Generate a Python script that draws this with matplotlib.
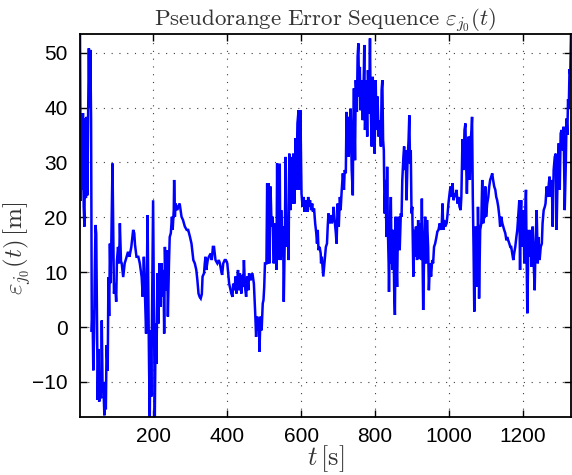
import matplotlib
matplotlib.use("Agg")
import matplotlib.pyplot as plt

plt.rcParams["mathtext.fontset"] = "cm"
plt.rcParams["font.family"] = ["Liberation Sans", "DejaVu Sans"]

# pseudorange error samples: time [s] and error [m]
t_sec = [
    1, 3, 5, 7, 9, 11, 13, 15, 17, 19, 21, 23, 25, 27, 29, 31, 33, 35, 37, 39,
    41, 43, 45, 47, 49, 51, 53, 55, 58, 60, 62, 65, 67, 69, 71, 73, 76, 78, 80, 82,
    84, 86, 89, 91, 93, 96, 99, 101, 104, 107, 109, 112, 114, 118, 122, 126, 131, 135, 140, 145,
    148, 150, 154, 159, 163, 168, 171, 174, 177, 180, 182, 184, 186, 188, 190, 192, 194, 197, 199, 201,
    203.6, 206, 208, 211, 213, 216, 219, 222, 224, 227, 229, 231, 234, 237, 239, 242, 244, 247, 250, 252,
    255, 256, 258, 260, 264, 267, 271, 276, 280, 285, 290, 294, 299, 303, 306, 308, 312, 316, 319, 322,
    325, 328, 331, 333, 337, 339, 341, 343, 347, 350, 355, 358, 361, 364, 366, 368, 373, 377, 380, 383,
    386, 389, 393, 396, 400, 405, 407, 411, 414, 416, 420, 422, 425, 429, 431, 434, 438, 440, 443, 445,
    448, 451, 454, 457, 459, 463, 468, 472, 476, 478, 481, 484, 486, 487, 490, 493, 496, 498, 500, 502,
    506, 508, 510, 512, 514, 517, 520, 523, 525, 528, 530, 533, 535, 537, 539, 542, 544, 546, 549, 551,
    553, 556, 558, 561, 564, 566, 568, 571, 574, 576, 579, 582, 585, 587, 590, 593, 595, 598, 601, 604,
    607, 609, 611, 614, 617, 619, 622, 624, 627, 630, 632, 635, 638, 641, 643, 645, 647, 650, 653, 654,
    656, 658, 660, 663, 667, 670, 672, 674, 677, 679, 683, 686, 688, 690, 694, 696, 699, 702, 705, 707,
    710, 713, 716, 718, 721, 723, 725, 727, 729, 731, 734, 737, 740, 741, 743, 746, 748, 751, 753, 755,
    757, 759, 761, 764, 767, 770, 771, 773, 776, 779, 781, 784, 786.5, 788, 791, 794, 797, 799, 802, 804,
    807, 810, 813, 816, 818, 820, 822, 824, 826, 829, 831, 832, 833, 835, 837, 838, 840, 843, 845, 847,
    848, 850, 852, 854, 856, 858, 860, 862, 864, 867, 870, 872, 874, 877, 879, 881, 883, 885.6, 888, 891,
    893, 895, 897, 899, 901, 904, 906, 909, 911, 914, 917, 920, 923, 925, 927, 929, 930.6, 933, 936, 938,
    941, 944, 946, 949, 952, 955, 957.5, 960, 963, 966.5, 969, 972, 975.6, 978, 981, 983, 985, 987, 990, 994,
    996, 999, 1002, 1004.5, 1007, 1010, 1013, 1015, 1018, 1021, 1023.5, 1026, 1029, 1032, 1034, 1037, 1040, 1042.5, 1045, 1047,
    1049, 1052, 1054, 1057, 1060, 1061.5, 1063, 1065, 1067, 1069, 1071.5, 1073, 1075, 1077, 1079, 1080.5, 1082, 1085, 1088, 1090.5,
    1093, 1096, 1099, 1101, 1104, 1107, 1109.5, 1112, 1115, 1117.6, 1120, 1123, 1126, 1128.5, 1131, 1134, 1137, 1139, 1142, 1145,
    1147.5, 1150, 1153, 1156, 1158, 1161, 1164, 1166.5, 1169, 1172, 1174.7, 1177, 1180, 1183, 1185.5, 1188, 1191, 1193, 1194.6, 1196,
    1198, 1200, 1202, 1204.5, 1206, 1209, 1211, 1212.7, 1214.5, 1216, 1219, 1222, 1224, 1227, 1230, 1232.6, 1235, 1238, 1241, 1243,
    1246, 1249, 1252, 1254, 1257, 1260, 1262, 1265, 1268, 1271, 1273, 1276, 1279, 1281.4, 1284, 1287, 1290, 1292, 1295, 1298,
    1300.5, 1303, 1306, 1309, 1311, 1314, 1317, 1319, 1321, 1323, 1325, 1327, 1329, 1331,
]
err_m = [
    53.4, 23, 38, 25, 39, 22, 18.3, 38, 23.5, 38.3, 24, 38.6, 50.8, 40, 50.5, 38, -0.9, 3, -7.9, -2,
    10, 18.6, 17, 2, -13.3, -4, -13.6, -11, -13, 1.2, -10.3, -12, -16.1, -10, -15, -3.3, -8, 9.1, 2, 15.2,
    8, 16, 29.8, 18, 6.1, 8, 4.6, 12, 14.6, 11.6, 18.9, 12, 11.6, 9.1, 11.6, 12.5, 13.7, 12.8, 14.6, 17.7,
    17.1, 15, 12.8, 12.8, 11.6, 9.1, 5.5, 12.8, 5.5, -1.2, 8.5, 20.4, 6.7, -6.7, -16.4, -0.6, -12.7, 9.8, 23.1, 5.5,
    -16.4, 0.6, -6.7, 9.8, 0.6, 11.6, 3.7, 11.6, 5.5, 10.4, -1.2, 14.6, 6.7, 14, 1.9, 11.6, 16.4, 17.1, 20.1, 17.7,
    21.3, 26.8, 20.1, 22.5, 21.3, 21.9, 22.5, 20.1, 19.5, 18.3, 17.7, 17.7, 16.4, 15.2, 13.4, 12.2, 11.6, 10.4, 8.5, 6.1,
    5.5, 5.2, 6.0, 9.2, 9.8, 11.6, 12.8, 10.4, 12.2, 12.8, 13.4, 12.2, 14.6, 14.6, 13.4, 12.2, 11.6, 12.2, 11.6, 10.4,
    9.5, 11.6, 12.2, 12.2, 11.6, 7.9, 7.3, 6.1, 5.5, 7.9, 6.7, 9.2, 6.1, 10.4, 6.7, 9.8, 6.1, 9.5, 7.3, 12.2,
    7.3, 5.5, 9.2, 6.7, 9.8, 8.5, 9.8, 7.9, 1.9, -1.8, 1.9, -0.6, 1.2, -4.5, 1.9, -0.6, 4.3, 4.9, 7.3, 11.6,
    11.6, 26.2, 11.6, 26.2, 11.6, 25.6, 18.3, 20.1, 11.6, 12.2, 18.9, 10.4, 29.8, 12.2, 19.5, 29.8, 12.2, 21.3, 12.8, 18.3,
    4.6, 17.7, 31.0, 14.6, 20.1, 12.2, 31.6, 21.3, 31.0, 22.5, 31.6, 22.5, 34.4, 25.0, 37.1, 39.5, 25.0, 39.5, 24.3, 21.9,
    23.7, 21.0, 21.9, 23.1, 21.0, 23.7, 21.9, 23.1, 21.3, 22.5, 21.0, 21.6, 18.9, 17.1, 15.2, 17.7, 14.0, 14.6, 13.4, 11.6,
    12.8, 11.0, 9.2, 11.6, 14.6, 15.2, 18.3, 20.7, 18.9, 20.4, 18.9, 19.5, 21.9, 20.1, 17.1, 15.2, 22.5, 18.3, 23.7, 21.3,
    25.0, 28.0, 25.0, 28.6, 28.0, 39.2, 31.0, 38.3, 31.0, 35.9, 39.8, 28.6, 24.0, 35.9, 43.5, 30.4, 45.0, 39.2, 49.3, 51.7,
    42.0, 47.4, 39.5, 45.0, 37.7, 46.8, 51.4, 35.9, 45.0, 34.7, 46.8, 38.9, 52.6, 42.0, 32.9, 45.6, 36.5, 31.6, 45.0, 35.9,
    42.0, 34.7, 37.7, 32.9, 43.2, 45.0, 34.1, 32.2, 20.7, 26.8, 16.4, 23.7, 29.2, 17.7, 11.6, 6.4, 15.2, 23.7, 11.6, 17.7,
    10.4, 17.7, 6.7, 2.2, 20.1, 11.6, 7.3, 17.7, 20.1, 14.0, 20.7, 20.1, 26.8, 31.0, 32.9, 28.6, 32.2, 23.1, 29.8, 34.1,
    38.6, 29.8, 32.2, 20.7, 21.9, 9.2, 17.7, 12.8, 18.3, 12.2, 19.5, 12.5, 18.9, 12.2, 23.4, 11.6, 3.1, 12.8, 20.1, 11.6,
    19.5, 14.6, 6.7, 11.6, 9.2, 12.2, 11.6, 14.6, 15.2, 16.4, 17.4, 17.7, 18.9, 17.7, 18.9, 22.5, 17.7, 19.5, 18.3, 18.9,
    20.1, 22.5, 24.3, 25.6, 23.7, 26.2, 23.1, 24.3, 23.7, 25.0, 22.5, 23.7, 21.9, 21.3, 23.7, 34.2, 28.6, 35.9, 37.1, 29.8,
    24.3, 32.9, 34.7, 26.8, 34.7, 35.9, 38.3, 23.7, 14.6, 2.8, 14.6, 18.3, 10.4, 7.3, 21.9, 16.4, 5.2, 17.7, 18.9, 26.8,
    18.9, 20.1, 25.6, 20.1, 22.5, 23.7, 25.6, 26.8, 27.4, 28.0, 26.8, 25.6, 25.0, 23.7, 23.1, 21.9, 20.1, 18.3, 20.1, 18.9,
    18.3, 17.7, 17.1, 15.8, 16.4, 15.8, 15.2, 14.6, 14.6, 13.4, 12.2, 13.4, 14.6, 16.4, 17.7, 20.1, 23.1, 10.4, 20.7, 23.1,
    14.6, 17.7, 21.3, 11.6, 17.7, 25.0, 11.6, 2.5, 10.4, 17.7, 12.8, 17.7, 11.0, 18.3, 11.6, 6.7, 15.2, 21.3, 11.6, 16.4,
    12.2, 14.6, 15.2, 18.9, 21.3, 21.9, 22.5, 25.6, 23.7, 26.2, 27.4, 23.7, 26.8, 18.3, 28.6, 31.0, 31.6, 17.7, 28.6, 33.5,
    25.0, 35.3, 35.9, 32.2, 36.5, 21.3, 30.0, 38.0, 35.0, 41.5, 40.0, 47.0, 46.0, 53.4,
]

xticks_s = [200, 400, 600, 800, 1000, 1200]
yticks_m = [-10, 0, 10, 20, 30, 40, 50]

fig = plt.figure(figsize=(5.72, 4.75), dpi=100)
ax = fig.add_axes([80 / 572, 58 / 475, 491 / 572, 383 / 475])

ax.plot(t_sec, err_m, color="#0000ff", linewidth=1.8, solid_joinstyle="miter")

ax.set_xlim(min(t_sec), max(t_sec))
ax.set_ylim(min(err_m), max(err_m))
ax.set_xticks(xticks_s)
ax.set_yticks(yticks_m)

ax.grid(True, color="0.25", linewidth=0.8, linestyle=(0, (1, 6)))
ax.tick_params(direction="in", top=True, right=True, length=5, width=1.0,
               labelsize=15, pad=7)
ax.tick_params(axis="y", pad=9)
for sp in ax.spines.values():
    sp.set_linewidth(1.3)

txt_col = "0.2"
ax.set_title(r"$\mathrm{Pseudorange\ Error\ Sequence}\ \varepsilon_{j_0}(t)$",
             fontsize=16.5, color=txt_col, pad=6)
ax.set_xlabel(r"$t\,[\mathrm{s}]$", fontsize=19, color=txt_col, labelpad=-2)
ax.set_ylabel(r"$\varepsilon_{j_0}(t)\,[\mathrm{m}]$", fontsize=18, color=txt_col)
ax.yaxis.set_label_coords(-0.095, 0.44)

fig.savefig("out.png", dpi=100)
